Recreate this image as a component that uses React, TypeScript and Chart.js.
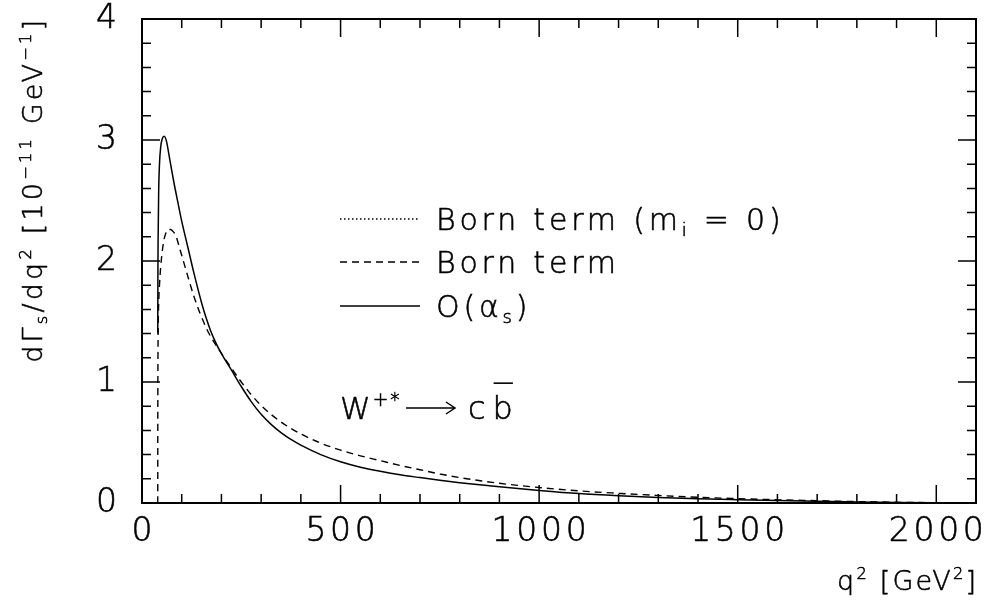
import { useEffect, useRef } from 'react';
import { Chart, registerables } from 'chart.js';

Chart.register(...registerables);

// ---- data ----
const qAlphaS = [39.7, 40.0, 40.5, 42, 44, 47, 51, 56, 62, 67, 72, 80, 90, 100, 115, 130, 150, 160, 172, 185, 200, 225, 250, 275, 300, 325, 350, 375, 400, 450, 500, 550, 600, 650, 700, 750, 800, 900, 1000, 1100, 1200, 1300, 1400, 1500, 1600, 1700, 1800, 1900, 2000, 2100];
const vAlphaS = [1.40, 1.85, 2.15, 2.58, 2.80, 2.94, 3.01, 3.03, 2.985, 2.895, 2.80, 2.655, 2.49, 2.33, 2.12, 1.91, 1.655, 1.545, 1.43, 1.33, 1.235, 1.10, 0.963, 0.838, 0.733, 0.650, 0.582, 0.525, 0.478, 0.400, 0.341, 0.296, 0.262, 0.233, 0.210, 0.188, 0.168, 0.134, 0.104, 0.078, 0.060, 0.046, 0.035, 0.027, 0.020, 0.014, 0.009, 0.005, 0.002, 0.0];

const qBorn = [39.7, 39.75, 39.9, 40.2, 41, 42.5, 44, 47, 50, 55, 60, 66, 72, 78, 85, 97, 113, 130, 147, 160, 168, 185, 200, 225, 250, 275, 300, 325, 350, 375, 400, 450, 500, 550, 600, 650, 700, 750, 800, 900, 1000, 1100, 1200, 1300, 1400, 1500, 1600, 1700, 1800, 1900, 2000, 2100];
const vBorn = [0, 0.5, 0.9, 1.2, 1.5, 1.7, 1.8, 1.95, 2.05, 2.17, 2.23, 2.26, 2.26, 2.245, 2.21, 2.08, 1.90, 1.715, 1.56, 1.46, 1.405, 1.31, 1.237, 1.115, 1.0, 0.895, 0.806, 0.732, 0.670, 0.617, 0.570, 0.495, 0.437, 0.39, 0.35, 0.31, 0.275, 0.24, 0.21, 0.163, 0.128, 0.10, 0.08, 0.062, 0.047, 0.036, 0.027, 0.019, 0.012, 0.006, 0.002, 0.0];

const xTickLabels = ['0', '500', '1000', '1500', '2000'];
const yTickLabels = ['0', '1', '2', '3', '4'];

const FONT = '"DejaVu Sans", "Liberation Sans", sans-serif';
const WEIGHT = '200';
const EMBOLDEN = 0.55;

type Seg = { t: string; k?: 'sup' | 'sub'; bar?: boolean; gap?: number };

function segFont(size: number, s: Seg) {
  const fs = s.k ? size * 0.6 : size;
  return `${WEIGHT} ${fs}px ${FONT}`;
}

function richWidth(ctx: CanvasRenderingContext2D, segs: Seg[], size: number, ls: number) {
  let w = 0;
  for (const s of segs) {
    ctx.font = segFont(size, s);
    (ctx as any).letterSpacing = '0px';
    w += ctx.measureText(s.t).width + ls * Array.from(s.t).length + (s.gap || 0);
  }
  return w - ls;
}

function drawRich(
  ctx: CanvasRenderingContext2D,
  segs: Seg[],
  x: number,
  y: number,
  size: number,
  ls: number,
  align: 'left' | 'right' | 'center',
  baseline: CanvasTextBaseline = 'alphabetic',
) {
  ctx.save();
  const W = richWidth(ctx, segs, size, ls);
  let cx = align === 'right' ? x - W : align === 'center' ? x - W / 2 : x;
  ctx.fillStyle = '#000';
  ctx.strokeStyle = '#000';
  ctx.textAlign = 'left';
  ctx.textBaseline = baseline;
  for (const s of segs) {
    ctx.font = segFont(size, s);
    (ctx as any).letterSpacing = '0px';
    const w0 = ctx.measureText(s.t).width;
    (ctx as any).letterSpacing = ls + 'px';
    const dy = s.k === 'sup' ? -size * 0.42 : s.k === 'sub' ? size * 0.2 : 0;
    ctx.fillText(s.t, cx, y + dy);
    ctx.lineWidth = EMBOLDEN;
    ctx.strokeText(s.t, cx, y + dy);
    if (s.bar) {
      ctx.beginPath();
      ctx.lineWidth = 1.6;
      ctx.moveTo(cx + 1, y - size * 1.12);
      ctx.lineTo(cx + w0, y - size * 1.12);
      ctx.stroke();
    }
    cx += w0 + ls * Array.from(s.t).length + (s.gap || 0);
  }
  ctx.restore();
}

const yTitle: Seg[] = [
  { t: 'dΓ' }, { t: 's', k: 'sub' }, { t: '/dq' }, { t: '2', k: 'sup' },
  { t: ' [10' }, { t: '−11', k: 'sup' }, { t: ' GeV' }, { t: '−1', k: 'sup' }, { t: ']' },
];
const xTitle: Seg[] = [{ t: 'q' }, { t: '2', k: 'sup' }, { t: ' [GeV' }, { t: '2', k: 'sup' }, { t: ']' }];

const legendRows: { segs: Seg[]; dash: number[] }[] = [
  { segs: [{ t: 'Born term (m' }, { t: 'i', k: 'sub' }, { t: ' = 0)' }], dash: [1.5, 2.5] },
  { segs: [{ t: 'Born term' }], dash: [7, 5] },
  { segs: [{ t: 'O(α' }, { t: 's', k: 'sub' }, { t: ')' }], dash: [] },
];

const decorPlugin = {
  id: 'decor',
  afterDraw(chart: any) {
    const ctx: CanvasRenderingContext2D = chart.ctx;
    const { left, right, top, bottom } = chart.chartArea;
    const xs = chart.scales.x;
    const ys = chart.scales.y;
    ctx.save();
    ctx.strokeStyle = '#000';
    // inward ticks on all four sides
    ctx.lineWidth = 1.5;
    ctx.beginPath();
    for (let v = 0; v <= 2100; v += 100) {
      const px = xs.getPixelForValue(v);
      const len = v % 500 === 0 ? 18 : 9;
      ctx.moveTo(px, bottom);
      ctx.lineTo(px, bottom - len);
      ctx.moveTo(px, top);
      ctx.lineTo(px, top + len);
    }
    for (let i = 0; i <= 20; i++) {
      const v = i * 0.2;
      const py = ys.getPixelForValue(v);
      const len = i % 5 === 0 ? 18 : 9;
      ctx.moveTo(left, py);
      ctx.lineTo(left + len, py);
      ctx.moveTo(right, py);
      ctx.lineTo(right - len, py);
    }
    ctx.stroke();
    // frame
    ctx.lineWidth = 2;
    ctx.strokeRect(left, top, right - left, bottom - top);

    // tick labels, placed with the scales
    xTickLabels.forEach((lab) => {
      drawRich(ctx, [{ t: lab }], xs.getPixelForValue(Number(lab)), 541, 33, 3.7, 'center');
    });
    yTickLabels.forEach((lab) => {
      drawRich(ctx, [{ t: lab }], 117, ys.getPixelForValue(Number(lab)), 33, 3.7, 'right', 'middle');
    });

    // legend
    const lineX0 = 340, lineX1 = 420, textX = 436;
    const lineYs = [219, 262, 306];
    legendRows.forEach((row, i) => {
      ctx.save();
      ctx.beginPath();
      ctx.lineWidth = 1.3;
      ctx.setLineDash(row.dash);
      ctx.moveTo(lineX0, lineYs[i]);
      ctx.lineTo(lineX1, lineYs[i]);
      ctx.stroke();
      ctx.restore();
      drawRich(ctx, row.segs, textX, lineYs[i] + 11, 30, 3.8, 'left');
    });

    // process label: W+* -> c b-bar
    drawRich(ctx, [{ t: 'W' }, { t: '+*', k: 'sup' }], 340, 419, 31, 2, 'left');
    ctx.save();
    ctx.lineWidth = 1.5;
    ctx.beginPath();
    ctx.moveTo(406, 408);
    ctx.lineTo(455, 408);
    ctx.moveTo(446, 402);
    ctx.lineTo(455, 408);
    ctx.lineTo(446, 414);
    ctx.stroke();
    ctx.restore();
    drawRich(ctx, [{ t: 'c', gap: 3 }, { t: 'b', bar: true }], 468, 419, 32, 4, 'left');

    // axis titles
    ctx.save();
    ctx.translate(42, 20);
    ctx.rotate(-Math.PI / 2);
    drawRich(ctx, yTitle, 0, 0, 27, 3.2, 'right');
    ctx.restore();
    drawRich(ctx, xTitle, 976, 590, 27, 2.2, 'right');
    ctx.restore();
  },
};

export default function App() {
  const ref = useRef<HTMLCanvasElement>(null);
  useEffect(() => {
    const chart = new Chart(ref.current!, {
      type: 'line',
      data: {
        datasets: [
          {
            label: 'Born term (mi = 0)',
            data: [],
            borderColor: '#000',
            borderWidth: 1.3,
            borderDash: [1.5, 2.5],
          },
          {
            label: 'Born term',
            data: qBorn.map((q, i) => ({ x: q, y: vBorn[i] })),
            borderColor: '#000',
            borderWidth: 1.4,
            borderDash: [7, 5],
            cubicInterpolationMode: 'monotone',
          },
          {
            label: 'O(αs)',
            data: qAlphaS.map((q, i) => ({ x: q, y: vAlphaS[i] })),
            borderColor: '#000',
            borderWidth: 1.5,
            cubicInterpolationMode: 'monotone',
          },
        ],
      },
      options: {
        animation: false,
        responsive: true,
        maintainAspectRatio: false,
        layout: { padding: { top: 19, right: 10, left: 0, bottom: 0 } },
        elements: { point: { radius: 0 } },
        plugins: { legend: { display: false }, tooltip: { enabled: false } },
        scales: {
          x: {
            type: 'linear',
            min: 0,
            max: 2100,
            afterFit: (s: any) => { s.height = 102; },
            grid: { display: false, drawTicks: false },
            border: { display: false },
            ticks: { display: false, stepSize: 500 },
          },
          y: {
            type: 'linear',
            min: 0,
            max: 4,
            afterFit: (s: any) => { s.width = 142; },
            grid: { display: false, drawTicks: false },
            border: { display: false },
            ticks: { display: false, stepSize: 1 },
          },
        },
      } as any,
      plugins: [decorPlugin],
    });
    return () => chart.destroy();
  }, []);
  return (
    <div style={{ position: 'fixed', left: 0, top: 0, width: 986, height: 605, background: '#fff' }}>
      <canvas ref={ref} />
    </div>
  );
}
